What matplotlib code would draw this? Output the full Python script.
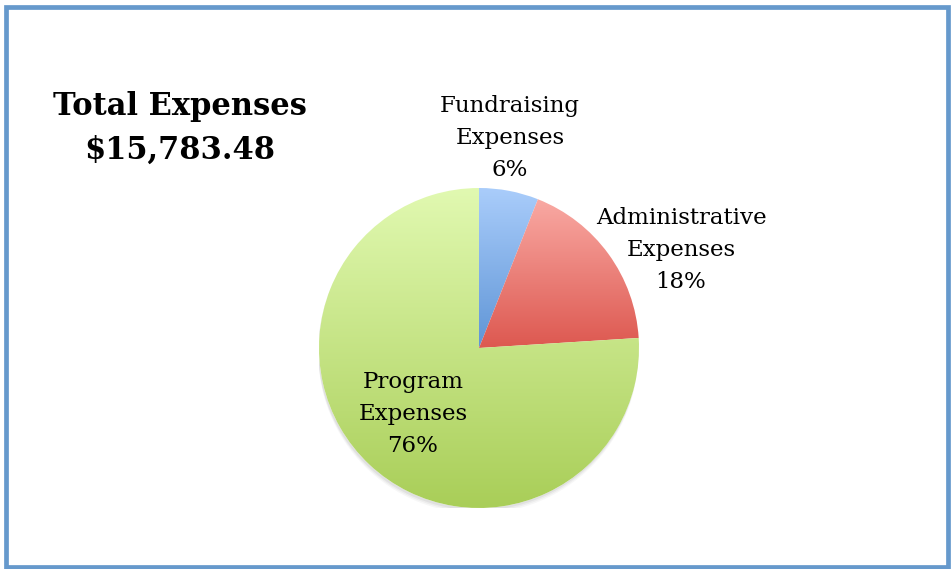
import numpy as np
import matplotlib
matplotlib.use("Agg")
import matplotlib.pyplot as plt
from matplotlib.colors import LinearSegmentedColormap
from matplotlib.patches import Rectangle

categories = ["Fundraising\nExpenses", "Administrative\nExpenses", "Program\nExpenses"]
percent = [6, 18, 76]
top_colors = ["#AACDFB", "#F9A9A3", "#E1F9B1"]
bottom_colors = ["#5F95D6", "#DD5850", "#A9CE58"]
title_lines = ["Total Expenses", "$15,783.48"]

W, H = 951, 569
fig = plt.figure(figsize=(W / 100, H / 100), dpi=100)
fig.patch.set_facecolor("white")

# border frame (pixel coords: left 6, right 948, top 7, bottom 567)
L, R, T, B = 6.0, 948.0, 7.0, 566.5
fig.add_artist(Rectangle((L / W, (H - B) / H), (R - L) / W, (B - T) / H,
                         transform=fig.transFigure, fill=False, edgecolor="#6699CC", linewidth=3.4))

cx, cy, r = 479, 348, 160
ax = fig.add_axes([(cx - r) / W, (H - cy - r) / H, 2 * r / W, 2 * r / H])
wedges, _ = ax.pie(percent, startangle=90, counterclock=False, radius=1,
                   wedgeprops=dict(facecolor="none", edgecolor="none"))
ax.set_aspect("equal")
ax.axis("off")

# subtle soft shadow
for k, a in zip([0.035, 0.025, 0.015], [0.03, 0.04, 0.05]):
    ax.add_patch(plt.Circle((-0.005, -k), 1.0, color="#000000", alpha=a, zorder=0, lw=0))
ax.add_patch(plt.Circle((0, 0), 1.0, color="white", zorder=0.5, lw=0))

grad = np.linspace(0, 1, 256).reshape(-1, 1)
for w, tc, bc in zip(wedges, top_colors, bottom_colors):
    ext = w.get_path().get_extents(w.get_patch_transform())
    cmap = LinearSegmentedColormap.from_list("g", [tc, bc])
    im = ax.imshow(grad, cmap=cmap, aspect="auto",
                   extent=[ext.x0, ext.x1, ext.y0, ext.y1], origin="upper", zorder=1)
    im.set_clip_path(w)

ax.set_xlim(-1, 1)
ax.set_ylim(-1, 1)

label_px = [(510, 138), (681, 250), (413, 414)]
fam = ["DejaVu Serif"]
for (lx, ly), cat, p in zip(label_px, categories, percent):
    ax.text((lx - cx) / r, (cy - ly) / r, f"{cat}\n{p}%", ha="center", va="center",
            fontsize=16.5, family=fam, linespacing=1.6, clip_on=False, zorder=5)

fig.text(180 / W, 1 - 107 / H, title_lines[0], ha="center", va="center",
         fontsize=22, fontweight="bold", family=fam)
fig.text(180 / W, 1 - 150 / H, title_lines[1], ha="center", va="center",
         fontsize=22, fontweight="bold", family=fam)

fig.savefig("out.png", dpi=100)
